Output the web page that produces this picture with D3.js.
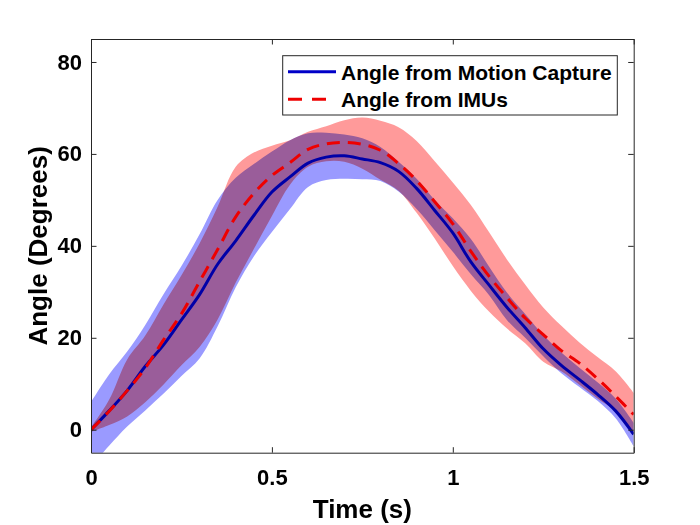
<!DOCTYPE html>
<html><head><meta charset="utf-8">
<script src="https://cdn.jsdelivr.net/npm/d3@7"></script>
<style>
html,body{margin:0;padding:0;background:#fff;}
svg{display:block;font-family:"Liberation Sans",Arial,Helvetica,sans-serif;}
</style>
</head><body>
<svg id="chart" width="700" height="525"></svg>
<script>
// ---- data ----
const timeS = [0,0.05,0.1,0.15,0.2,0.25,0.3,0.35,0.4,0.45,0.5,0.55,0.6,0.65,0.7,0.75,0.8,0.85,0.9,0.95,1.0,1.05,1.1,1.15,1.2,1.25,1.3,1.35,1.4,1.45,1.5];
const mocapMean  = [0,4.1,8.5,13.8,18.4,23.9,29.4,36.0,41.1,46.6,51.7,55.0,58.0,59.3,59.6,58.9,58.1,56.2,52.5,47.7,42.8,36.5,31.5,26.6,22.2,17.6,14.0,10.9,7.7,4.1,-1.0];
const mocapUpper = [6.0,12.0,17.0,22.8,29.4,35.6,42.5,50.0,54.8,57.8,60.5,63.0,64.5,64.6,64.2,63.4,61.5,58.3,54.6,50.0,46.0,41.5,35.5,29.8,25.2,20.6,16.8,13.5,10.3,6.8,1.5];
const mocapLower = [-8.0,-3.5,0.7,4.2,7.8,11.7,15.5,22.5,31.0,37.7,43.0,48.0,52.8,54.3,54.6,54.5,54.1,51.8,48.0,43.4,38.7,33.8,29.3,23.8,20.0,16.0,12.3,9.3,6.3,2.5,-3.6];
const imuMean  = [0,4.0,8.5,13.4,19.5,25.2,32.2,39.2,46.3,51.4,55.3,58.1,61.0,62.2,62.5,62.1,60.8,57.9,54.2,49.6,44.8,38.8,33.4,28.7,24.3,20.7,17.2,14.5,11.1,7.3,3.3];
const imuUpper = [0.5,6.5,15.3,20.5,27.2,33.6,40.5,48.5,57.2,60.3,61.8,63.0,64.8,66.0,67.3,67.9,67.2,65.8,62.8,58.4,53.8,48.9,43.0,37.0,31.6,26.6,22.6,19.0,15.8,12.7,8.0];
const imuLower = [-0.5,1.0,2.9,6.0,9.8,14.0,18.0,24.0,32.0,39.3,46.5,53.3,57.2,58.4,58.3,56.8,54.4,52.0,47.2,41.6,35.6,30.2,25.7,22.0,18.8,14.8,12.7,9.8,6.8,4.0,-0.7];

const xTicks = [0,0.5,1,1.5];
const yTicks = [0,20,40,60,80];
const seriesNames = ["Angle from Motion Capture","Angle from IMUs"];
const xLabel = "Time (s)";
const yLabel = "Angle (Degrees)";

// ---- layout ----
const L = 91, T = 39, R = 633.7, B = 452.7;
const svg = d3.select("#chart");
const x = d3.scaleLinear().domain([0,1.5]).range([L,R]);
const y = d3.scaleLinear().domain([-5,85]).range([B,T]);

svg.append("rect").attr("width",700).attr("height",525).attr("fill","#fff");

svg.append("defs").append("clipPath").attr("id","clip")
  .append("rect").attr("x",L).attr("y",T).attr("width",R-L).attr("height",B-T);

const plot = svg.append("g").attr("clip-path","url(#clip)").style("isolation","isolate");

const rows = timeS.map((t,i)=>({t, mm:mocapMean[i], mu:mocapUpper[i], ml:mocapLower[i], im:imuMean[i], iu:imuUpper[i], il:imuLower[i]}));
const curve = d3.curveCatmullRom.alpha(0.5);

const bandM = d3.area().x(d=>x(d.t)).y0(d=>y(d.ml)).y1(d=>y(d.mu)).curve(curve);
const bandI = d3.area().x(d=>x(d.t)).y0(d=>y(d.il)).y1(d=>y(d.iu)).curve(curve);
plot.append("path").datum(rows).attr("d",bandM).attr("fill","#9a9aff").style("mix-blend-mode","multiply");
plot.append("path").datum(rows).attr("d",bandI).attr("fill","#ff9a9a").style("mix-blend-mode","multiply");

const lineM = d3.line().x(d=>x(d.t)).y(d=>y(d.mm)).curve(curve);
const lineI = d3.line().x(d=>x(d.t)).y(d=>y(d.im)).curve(curve);
plot.append("path").datum(rows).attr("d",lineM).attr("fill","none").attr("stroke","#0000a8").attr("stroke-width",3);
plot.append("path").datum(rows).attr("d",lineI).attr("fill","none").attr("stroke","#ee0000").attr("stroke-width",3).attr("stroke-dasharray","13,8");

// ---- axes ----
const axCol = "#262626";
const tk = 5.5;
const gx = svg.append("g").attr("transform",`translate(0,${B})`)
  .call(d3.axisBottom(x).tickValues(xTicks).tickFormat(d3.format("")).tickSizeInner(-tk).tickSizeOuter(0).tickPadding(17));
const gxt = svg.append("g").attr("transform",`translate(0,${T})`)
  .call(d3.axisTop(x).tickValues(xTicks).tickFormat("").tickSizeInner(-tk).tickSizeOuter(0));
const gy = svg.append("g").attr("transform",`translate(${L},0)`)
  .call(d3.axisLeft(y).tickValues(yTicks).tickFormat(d3.format("")).tickSizeInner(-tk).tickSizeOuter(0).tickPadding(9));
const gyr = svg.append("g").attr("transform",`translate(${R},0)`)
  .call(d3.axisRight(y).tickValues(yTicks).tickFormat("").tickSizeInner(-tk).tickSizeOuter(0));
[gx,gxt,gy,gyr].forEach(g=>{
  g.select(".domain").attr("stroke",axCol).attr("stroke-width",1);
  g.selectAll(".tick line").attr("stroke",axCol).attr("stroke-width",1);
  g.selectAll(".tick text").attr("fill","#000").attr("font-size",22).attr("font-weight","bold")
    .attr("font-family",'"Liberation Sans",Arial,sans-serif');
});

// axis labels
svg.append("text").attr("x",(L+R)/2).attr("y",518).attr("text-anchor","middle")
  .attr("font-size",26).attr("font-weight","bold").text(xLabel);
svg.append("text").attr("transform",`translate(47,${(T+B)/2}) rotate(-90)`).attr("text-anchor","middle")
  .attr("font-size",26).attr("font-weight","bold").text(yLabel);

// ---- legend ----
const lg = svg.append("g");
lg.append("rect").attr("x",282.7).attr("y",55.7).attr("width",334.6).attr("height",59.3)
  .attr("fill","#fff").attr("stroke",axCol).attr("stroke-width",1);
const legendItems = [
  {name:seriesNames[0], color:"#0000c8", dash:null, ly:71.7, ty:80},
  {name:seriesNames[1], color:"#ee0000", dash:"14,10", ly:99.3, ty:107}
];
legendItems.forEach(it=>{
  lg.append("line").attr("x1",288).attr("x2",336).attr("y1",it.ly).attr("y2",it.ly)
    .attr("stroke",it.color).attr("stroke-width",3).attr("stroke-dasharray",it.dash);
  lg.append("text").attr("x",341).attr("y",it.ty).attr("font-size",21).attr("font-weight","bold").text(it.name);
});
</script>
</body></html>
